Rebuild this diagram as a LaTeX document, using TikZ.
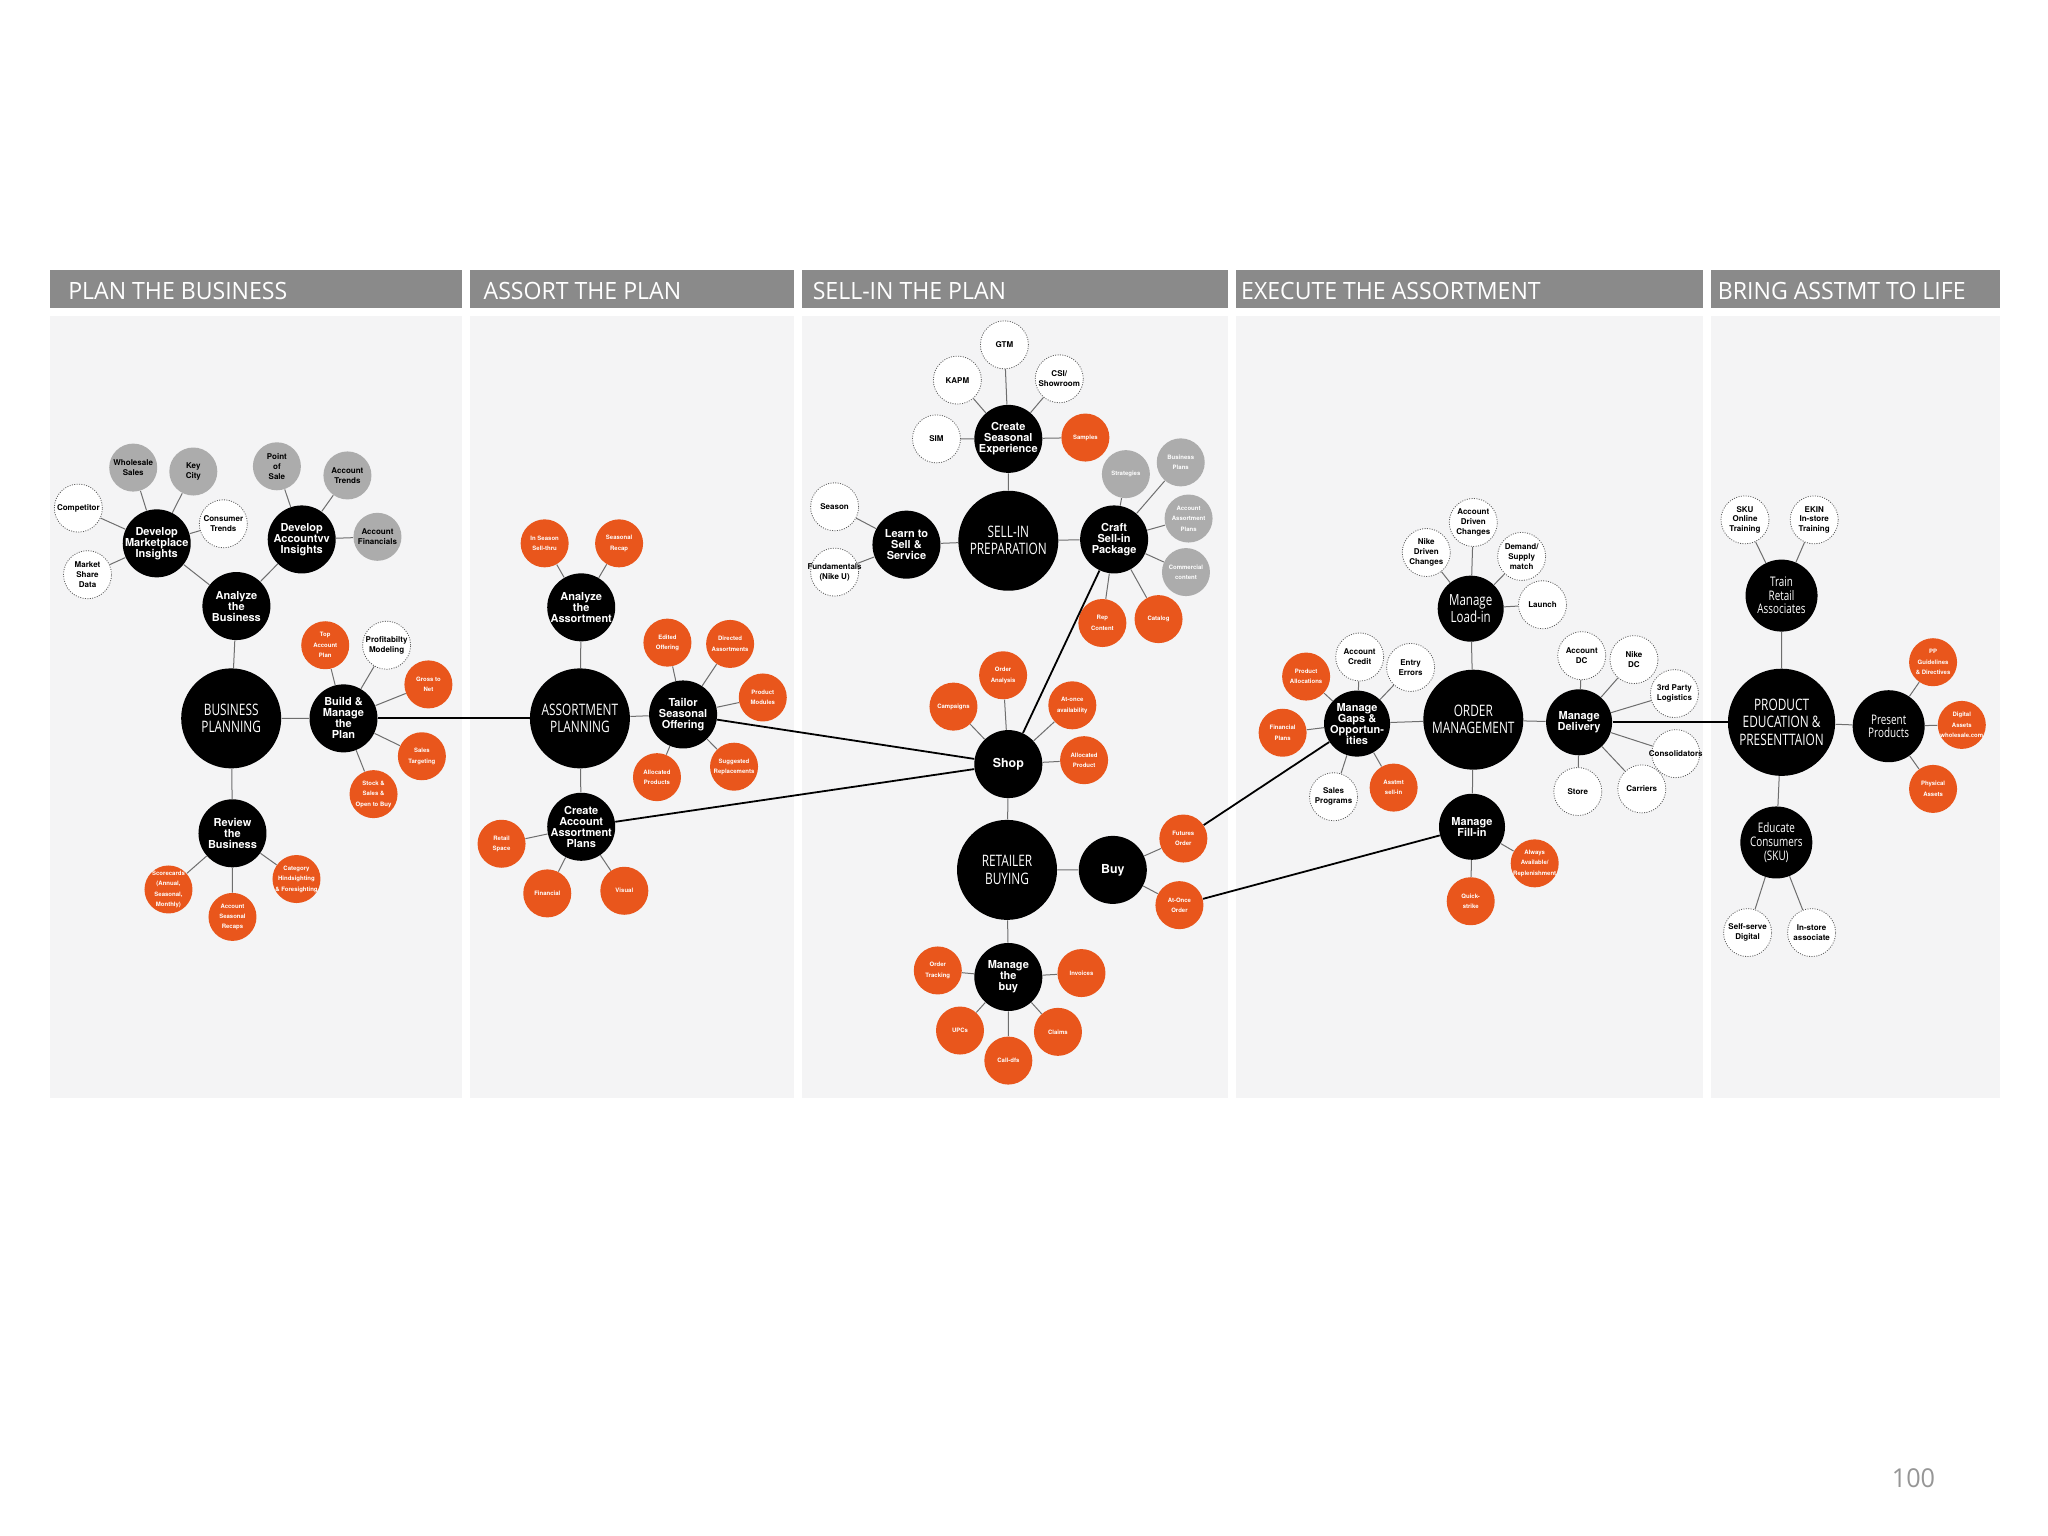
\documentclass[tikz,border=0pt]{standalone}
\usepackage{fontspec}
\newfontfamily\heros{TeX Gyre Heros}
\newfontfamily\hubfont[FakeStretch=0.75]{Open Sans}
\newfontfamily\barfont[FakeStretch=0.97]{Open Sans}
\definecolor{nikeorange}{RGB}{233,86,28}
\definecolor{bubblegray}{RGB}{172,172,172}
\definecolor{bargray}{RGB}{138,138,138}
\definecolor{panelgray}{RGB}{244,244,245}
\definecolor{linkgray}{RGB}{110,110,110}
\definecolor{dotgray}{RGB}{90,90,90}
\definecolor{pagegray}{RGB}{150,150,150}

\begin{document}
\begin{tikzpicture}[x=0.653pt, y=-0.653pt,
  bubbletext/.style={align=center, inner sep=0pt, text=white},
  hubtext/.style={bubbletext, font=\hubfont\fontsize{7.9}{8.6}\selectfont},
  tasktext/.style={bubbletext, font=\heros\bfseries\fontsize{5.5}{5.5}\selectfont},
  bigtasktext/.style={bubbletext, font=\heros\bfseries\fontsize{6.2}{6.4}\selectfont},
  lighttext/.style={bubbletext, font=\hubfont\fontsize{6.6}{6.8}\selectfont},
  loadtext/.style={bubbletext, font=\hubfont\fontsize{7.7}{7.2}\selectfont},
  delivtext/.style={bubbletext, font=\heros\bfseries\fontsize{3}{5.2}\selectfont},
  facttext/.style={bubbletext, text=black, font=\heros\bfseries\fontsize{4}{4.9}\selectfont},
  hub/.style={circle, fill=black, minimum size=50pt, label={[hubtext]center:#1}},
  task/.style={circle, fill=black, minimum size=34pt, label={[tasktext]center:#1}},
  bigtask/.style={circle, fill=black, minimum size=34pt, label={[bigtasktext]center:#1}},
  tasklight/.style={circle, fill=black, minimum size=36pt, label={[lighttext]center:#1}},
  loadtask/.style={circle, fill=black, minimum size=33pt, label={[loadtext]center:#1}},
  deliv/.style={circle, fill=nikeorange, minimum size=24pt, label={[delivtext]center:#1}},
  delivgray/.style={circle, fill=bubblegray, minimum size=24pt, label={[delivtext]center:#1}},
  fact/.style={circle, fill=white, draw=dotgray, line width=0.4pt, dash pattern=on 0.5pt off 0.7pt, minimum size=24pt, label={[facttext]center:#1}},
  factgray/.style={circle, fill=bubblegray, minimum size=24pt, label={[facttext]center:#1}},
  bartext/.style={anchor=west, inner sep=0pt, text=white, font=\barfont\fontsize{11.9}{12}\selectfont},
  link/.style={draw=linkgray, line width=0.5pt},
  flow/.style={draw=black, line width=0.9pt}]
\useasboundingbox (0,0) rectangle (1568,1176);
\fill[white] (0,0) rectangle (1568,1176);

\fill[panelgray] (38,242) rectangle (354,841);
\fill[panelgray] (360,242) rectangle (608,841);
\fill[panelgray] (614,242) rectangle (940,841);
\fill[panelgray] (946,242) rectangle (1304,841);
\fill[panelgray] (1310,242) rectangle (1531,841);
\fill[bargray] (38,207) rectangle (354,236);
\fill[bargray] (360,207) rectangle (608,236);
\fill[bargray] (614,207) rectangle (940,236);
\fill[bargray] (946,207) rectangle (1304,236);
\fill[bargray] (1310,207) rectangle (1531,236);
\node[bartext] (hplan) at (52,223) {PLAN THE BUSINESS};
\node[bartext] (hassort) at (370,223) {ASSORT THE PLAN};
\node[bartext] (hsell) at (622,223) {SELL-IN THE PLAN};
\node[bartext] (hexec) at (950,223) {EXECUTE THE ASSORTMENT};
\node[bartext] (hlife) at (1315,223) {BRING ASSTMT TO LIFE};

\node[hub={BUSINESS\\PLANNING}] (bp) at (177,550) {};
\node[task={Analyze\\the\\Business}] (ana) at (181,464) {};
\node[task={Develop\\Marketplace\\Insights}] (dmi) at (120,416) {};
\node[task={Develop\\Accountvv\\Insights}] (dai) at (231,413) {};
\node[factgray={Wholesale\\Sales}] (whs) at (102,358) {};
\node[factgray={Key\\City}] (kcy) at (148,361) {};
\node[fact={Competitor}] (cmp) at (60,389) {};
\node[fact={Consumer\\Trends}] (cst) at (171,401) {};
\node[fact={Market\\Share\\Data}] (msd) at (67,440) {};
\node[factgray={Point\\of\\Sale}] (pos) at (212,357) {};
\node[factgray={Account\\Trends}] (atr) at (266,364) {};
\node[factgray={Account\\Financials}] (afn) at (289,411) {};
\node[task={Build \&\\Manage\\the\\Plan}] (bmp) at (263,550) {};
\node[deliv={Top\\Account\\Plan}] (tap) at (249,494) {};
\node[fact={Profitabilty\\Modeling}] (prm) at (296,494) {};
\node[deliv={Gross to\\Net}] (gtn) at (328,524) {};
\node[deliv={Sales\\Targeting}] (stg) at (323,579) {};
\node[deliv={Stock \&\\Sales \&\\Open to Buy}] (sso) at (286,608) {};
\node[task={Review\\the\\Business}] (rvb) at (178,638) {};
\node[deliv={Scorecards\\(Annual,\\Seasonal,\\Monthly)}] (scd) at (129,681) {};
\node[deliv={Account\\Seasonal\\Recaps}] (asr) at (178,702) {};
\node[deliv={Category\\Hindsighting\\\& Foresighting}] (chf) at (227,673) {};

\node[hub={ASSORTMENT\\PLANNING}] (ap) at (444,550) {};
\node[task={Analyze\\the\\Assortment}] (aas) at (445,465) {};
\node[deliv={In Season\\Sell-thru}] (ist) at (417,416) {};
\node[deliv={Seasonal\\Recap}] (srp) at (474,416) {};
\node[task={Tailor\\Seasonal\\Offering}] (tso) at (523,547) {};
\node[deliv={Edited\\Offering}] (eof) at (511,492) {};
\node[deliv={Directed\\Assortments}] (das) at (559,493) {};
\node[deliv={Product\\Modules}] (pmd) at (584,534) {};
\node[deliv={Suggested\\Replacements}] (srm) at (562,587) {};
\node[deliv={Allocated\\Products}] (alp) at (503,595) {};
\node[task={Create\\Account\\Assortment\\Plans}] (caa) at (445,633) {};
\node[deliv={Retail\\Space}] (rsp) at (384,646) {};
\node[deliv={Financial}] (fin) at (419,684) {};
\node[deliv={Visual}] (vis) at (478,682) {};

\node[hub={SELL-IN\\PREPARATION}] (sip) at (772,414) {};
\node[task={Create\\Seasonal\\Experience}] (cse) at (772,336) {};
\node[fact={GTM}] (gtm) at (769,264) {};
\node[fact={KAPM}] (kpm) at (733,291) {};
\node[fact={CSI/\\Showroom}] (csi) at (811,290) {};
\node[fact={SIM}] (sim) at (717,336) {};
\node[deliv={Samples}] (smp) at (831,335) {};
\node[task={Learn to\\Sell \&\\Service}] (lss) at (694,417) {};
\node[fact={Season}] (ssn) at (639,388) {};
\node[fact={Fundamentals\\(Nike U)}] (fnu) at (639,438) {};
\node[task={Craft\\Sell-in\\Package}] (csp) at (853,413) {};
\node[delivgray={Strategies}] (stt) at (862,363) {};
\node[delivgray={Business\\Plans}] (bpl) at (904,354) {};
\node[delivgray={Account\\Assortment\\Plans}] (aap) at (910,397) {};
\node[delivgray={Commercial\\content}] (ccn) at (908,438) {};
\node[deliv={Rep\\Content}] (rpc) at (844,477) {};
\node[deliv={Catalog}] (ctl) at (887,474) {};
\node[hub={RETAILER\\BUYING}] (rb) at (771,666) {};
\node[bigtask={Shop}] (shp) at (772,585) {};
\node[deliv={Order\\Analysis}] (oan) at (768,517) {};
\node[deliv={Campaigns}] (cpg) at (730,541) {};
\node[deliv={At-once\\availability}] (aoa) at (821,540) {};
\node[deliv={Allocated\\Product}] (apr) at (830,582) {};
\node[bigtask={Buy}] (buy) at (852,666) {};
\node[deliv={Futures\\Order}] (fto) at (906,642) {};
\node[deliv={At-Once\\Order}] (aoo) at (903,693) {};
\node[task={Manage\\the\\buy}] (mtb) at (772,748) {};
\node[deliv={Order\\Tracking}] (otr) at (718,743) {};
\node[deliv={Invoices}] (inv) at (828,745) {};
\node[deliv={UPCs}] (upc) at (735,789) {};
\node[deliv={Claims}] (clm) at (810,790) {};
\node[deliv={Call-dfs}] (cdf) at (772,812) {};

\node[hub={ORDER\\MANAGEMENT}] (om) at (1128,551) {};
\node[loadtask={Manage\\Load-in}] (mli) at (1126,466) {};
\node[fact={Nike\\Driven\\Changes}] (ndc) at (1092,423) {};
\node[fact={Account\\Driven\\Changes}] (adc) at (1128,400) {};
\node[fact={Demand/\\Supply\\match}] (dsm) at (1165,426) {};
\node[fact={Launch}] (lch) at (1181,463) {};
\node[task={Manage\\Gaps \&\\Opportun-\\ities}, minimum size=33pt] (mgo) at (1039,554) {};
\node[fact={Account\\Credit}] (acr) at (1041,503) {};
\node[fact={Entry\\Errors}] (eer) at (1080,511) {};
\node[deliv={Product\\Allocations}] (pal) at (1000,518) {};
\node[deliv={Financial\\Plans}] (fpl) at (982,561) {};
\node[fact={Sales\\Programs}] (spr) at (1021,610) {};
\node[deliv={Asstmt\\sell-in}] (asi) at (1067,603) {};
\node[task={Manage\\Delivery}, minimum size=33pt] (mdl) at (1209,553) {};
\node[fact={Account\\DC}] (adcn) at (1211,502) {};
\node[fact={Nike\\DC}] (nkd) at (1251,505) {};
\node[fact={3rd Party\\Logistics}] (tpl) at (1282,531) {};
\node[fact={Consolidators}] (cns) at (1283,577) {};
\node[fact={Carriers}] (crr) at (1257,604) {};
\node[fact={Store}] (str) at (1208,606) {};
\node[task={Manage\\Fill-in}, minimum size=33pt] (mfi) at (1127,633) {};
\node[deliv={Always\\Available/\\Replenishment}] (aar) at (1175,661) {};
\node[deliv={Quick-\\strike}] (qks) at (1126,690) {};

\node[hub={PRODUCT\\EDUCATION \&\\PRESENTTAION}, minimum size=53.6pt] (pep) at (1364,553) {};
\node[tasklight={Train\\Retail\\Associates}] (tra) at (1364,456) {};
\node[fact={SKU\\Online\\Training}] (sot) at (1336,398) {};
\node[fact={EKIN\\In-store\\Training}] (eit) at (1389,398) {};
\node[tasklight={Present\\Products}] (ppr) at (1446,556) {};
\node[deliv={PP\\Guidelines\\\& Directives}] (ppg) at (1480,507) {};
\node[deliv={Digital\\Assets\\wholesale.com}] (dga) at (1502,555) {};
\node[deliv={Physical\\Assets}] (phy) at (1480,604) {};
\node[tasklight={Educate\\Consumers\\(SKU)}] (ecs) at (1360,645) {};
\node[fact={Self-serve\\Digital}] (ssd) at (1338,714) {};
\node[fact={In-store\\associate}] (isa) at (1387,714) {};

\draw[link] (bp) -- (ana) (bp) -- (bmp) (bp) -- (rvb) (ana) -- (dmi) (ana) -- (dai)
  (dmi) -- (whs) (dmi) -- (kcy) (dmi) -- (cmp) (dmi) -- (cst) (dmi) -- (msd)
  (dai) -- (pos) (dai) -- (atr) (dai) -- (afn)
  (bmp) -- (tap) (bmp) -- (prm) (bmp) -- (gtn) (bmp) -- (stg) (bmp) -- (sso)
  (rvb) -- (scd) (rvb) -- (asr) (rvb) -- (chf);
\draw[link] (ap) -- (aas) (ap) -- (tso) (ap) -- (caa) (aas) -- (ist) (aas) -- (srp)
  (tso) -- (eof) (tso) -- (das) (tso) -- (pmd) (tso) -- (srm) (tso) -- (alp)
  (caa) -- (rsp) (caa) -- (fin) (caa) -- (vis);
\draw[link] (sip) -- (cse) (sip) -- (lss) (sip) -- (csp)
  (cse) -- (gtm) (cse) -- (kpm) (cse) -- (csi) (cse) -- (sim) (cse) -- (smp)
  (lss) -- (ssn) (lss) -- (fnu)
  (csp) -- (stt) (csp) -- (bpl) (csp) -- (aap) (csp) -- (ccn) (csp) -- (rpc) (csp) -- (ctl);
\draw[link] (rb) -- (shp) (rb) -- (buy) (rb) -- (mtb)
  (shp) -- (oan) (shp) -- (cpg) (shp) -- (aoa) (shp) -- (apr)
  (buy) -- (fto) (buy) -- (aoo)
  (mtb) -- (otr) (mtb) -- (inv) (mtb) -- (upc) (mtb) -- (clm) (mtb) -- (cdf);
\draw[link] (om) -- (mli) (om) -- (mgo) (om) -- (mdl) (om) -- (mfi)
  (mli) -- (ndc) (mli) -- (adc) (mli) -- (dsm) (mli) -- (lch)
  (mgo) -- (acr) (mgo) -- (eer) (mgo) -- (pal) (mgo) -- (fpl) (mgo) -- (spr) (mgo) -- (asi)
  (mdl) -- (adcn) (mdl) -- (nkd) (mdl) -- (tpl) (mdl) -- (cns) (mdl) -- (crr) (mdl) -- (str)
  (mfi) -- (aar) (mfi) -- (qks);
\draw[link] (pep) -- (tra) (pep) -- (ppr) (pep) -- (ecs) (tra) -- (sot) (tra) -- (eit)
  (ppr) -- (ppg) (ppr) -- (dga) (ppr) -- (phy) (ecs) -- (ssd) (ecs) -- (isa);

\draw[flow] (bmp) -- (ap);
\draw[flow] (tso) -- (shp);
\draw[flow] (caa) -- (shp);
\draw[flow] (csp) -- (shp);
\draw[flow] (fto) -- (mgo);
\draw[flow] (aoo) -- (mfi);
\draw[flow] (mdl) -- (pep);

\node[text=pagegray, font=\barfont\fontsize{13}{13}\selectfont] (pgno) at (1465,1132) {100};
\end{tikzpicture}
\end{document}
